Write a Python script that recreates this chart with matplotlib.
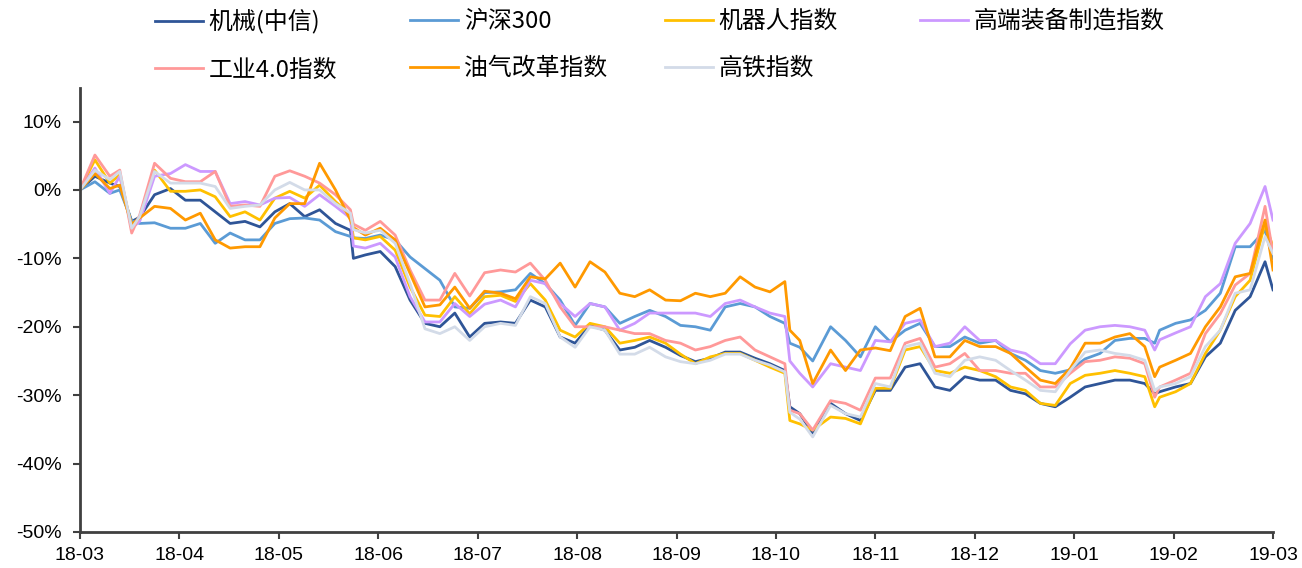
import matplotlib
matplotlib.use('Agg')
import matplotlib.pyplot as plt

# months since 2018-03 (category-style axis, one unit per month)
t = [0.00, 0.15, 0.30, 0.40, 0.52, 0.60, 0.75, 0.91, 1.06, 1.21, 1.36, 1.51, 1.66, 1.81, 1.96,
     2.11, 2.26, 2.41, 2.57, 2.72, 2.75, 2.87, 3.02, 3.17, 3.32, 3.47, 3.62, 3.77, 3.92, 4.07,
     4.23, 4.38, 4.53, 4.68, 4.83, 4.98, 5.13, 5.28, 5.43, 5.58, 5.73, 5.89, 6.04, 6.19, 6.34,
     6.49, 6.64, 6.79, 6.94, 7.09, 7.14, 7.24, 7.37, 7.55, 7.70, 7.85, 8.00, 8.15, 8.30, 8.45,
     8.60, 8.75, 8.90, 9.05, 9.21, 9.36, 9.51, 9.66, 9.81, 9.96, 10.11, 10.26, 10.41, 10.56,
     10.71, 10.81, 10.86, 11.02, 11.17, 11.32, 11.47, 11.62, 11.77, 11.92, 12.00]

month_labels = ['18-03', '18-04', '18-05', '18-06', '18-07', '18-08', '18-09',
                '18-10', '18-11', '18-12', '19-01', '19-02', '19-03']

# cumulative return, %
jixie = [0, 2.0, 1.0, 0.5, -4.6, -4.0, -0.7, 0.2, -1.5, -1.5, -3.2, -4.9, -4.6, -5.4, -3.2,
         -2.0, -3.9, -2.9, -4.9, -5.9, -10.0, -9.5, -9.0, -11.2, -16.1, -19.5, -20.0, -18.0, -21.5, -19.5,
         -19.3, -19.5, -16.1, -17.1, -21.5, -22.4, -19.8, -20.5, -23.4, -23.0, -22.0, -23.0, -24.2, -25.1, -24.6,
         -23.7, -23.7, -24.6, -25.4, -26.4, -31.7, -32.7, -35.6, -31.2, -32.7, -33.7, -29.3, -29.3, -25.9, -25.4,
         -28.8, -29.3, -27.3, -27.8, -27.8, -29.3, -29.8, -31.2, -31.7, -30.3, -28.8, -28.3, -27.8, -27.8,
         -28.3, -29.8, -29.5, -28.8, -28.3, -24.4, -22.4, -17.6, -15.6, -10.5, -14.6]

hs300 = [0, 1.2, -0.5, 0.0, -4.5, -4.9, -4.8, -5.6, -5.6, -4.9, -7.8, -6.3, -7.3, -7.3, -4.9,
         -4.2, -4.1, -4.4, -6.1, -6.8, -7.0, -7.1, -6.6, -7.3, -9.8, -11.5, -13.2, -17.1, -17.3, -15.0,
         -14.9, -14.6, -12.2, -13.7, -16.1, -19.8, -16.6, -17.1, -19.5, -18.5, -17.6, -18.5, -19.8, -20.0, -20.5,
         -17.1, -16.6, -17.1, -18.5, -19.5, -22.4, -23.0, -25.0, -20.0, -22.0, -24.4, -20.0, -22.2, -20.5, -19.5,
         -22.9, -22.9, -21.5, -22.4, -22.0, -23.9, -24.9, -26.4, -26.8, -26.3, -24.7, -23.9, -22.0, -21.7,
         -21.7, -22.4, -20.5, -19.5, -19.0, -17.6, -15.1, -8.3, -8.3, -5.9, -10.0]

robot = [0, 4.4, 1.0, 2.2, -5.4, -4.4, 2.9, -0.2, -0.2, 0.0, -1.0, -3.9, -3.2, -4.4, -1.2,
         -0.2, -1.2, 0.7, -1.7, -3.7, -7.0, -7.3, -6.8, -8.8, -14.2, -18.3, -18.5, -15.6, -18.1, -15.6,
         -15.4, -16.3, -13.7, -16.1, -20.5, -21.5, -19.5, -20.0, -22.4, -22.0, -21.5, -22.4, -24.0, -25.4, -24.4,
         -23.9, -23.9, -24.9, -25.9, -26.8, -33.7, -34.2, -35.1, -33.2, -33.4, -34.2, -29.0, -29.0, -23.4, -22.9,
         -26.4, -26.8, -25.9, -26.4, -27.3, -28.8, -29.3, -31.2, -31.5, -28.3, -27.1, -26.8, -26.4, -26.8,
         -27.3, -31.7, -30.3, -29.5, -28.3, -23.9, -20.5, -15.6, -13.2, -4.9, -8.3]

high_end = [0, 3.2, -0.5, 2.0, -5.6, -4.6, 2.0, 2.4, 3.7, 2.7, 2.7, -2.0, -1.7, -2.2, -1.2,
            -1.1, -2.4, -0.7, -2.4, -4.1, -8.2, -8.5, -7.8, -9.8, -15.6, -19.3, -19.3, -16.6, -18.5, -16.7,
            -16.1, -17.1, -13.2, -13.7, -16.6, -18.5, -16.6, -17.1, -20.5, -19.5, -18.0, -18.0, -18.0, -18.0, -18.5,
            -16.6, -16.1, -17.1, -18.0, -18.5, -25.0, -26.8, -28.8, -25.4, -25.9, -26.4, -22.0, -22.2, -19.5, -19.0,
            -22.9, -22.4, -20.0, -22.0, -22.0, -23.4, -23.9, -25.4, -25.4, -22.5, -20.5, -20.0, -19.8, -20.0,
            -20.5, -23.4, -21.9, -20.9, -20.0, -15.6, -13.7, -7.8, -4.9, 0.5, -4.4]

industry40 = [0, 5.1, 2.0, 2.9, -6.3, -3.7, 3.9, 1.7, 1.2, 1.2, 2.7, -2.4, -2.2, -2.4, 2.0,
              2.8, 2.0, 1.0, -0.7, -2.9, -5.0, -5.9, -4.6, -6.6, -11.7, -16.1, -16.1, -12.2, -15.5, -12.1,
              -11.7, -12.0, -10.7, -13.2, -17.1, -20.0, -20.0, -20.0, -20.5, -21.0, -21.0, -22.0, -22.4, -23.4, -22.9,
              -22.0, -21.5, -23.4, -24.4, -25.4, -32.2, -32.7, -35.1, -30.8, -31.2, -32.2, -27.5, -27.5, -22.4, -21.7,
              -25.9, -25.4, -23.9, -26.4, -26.4, -26.8, -26.8, -28.8, -28.8, -26.8, -25.1, -24.9, -24.4, -24.6,
              -25.4, -30.3, -28.8, -27.8, -26.8, -21.0, -18.1, -13.9, -12.2, -2.4, -9.3]

oil_gas = [0, 2.4, 0.2, 0.7, -5.0, -4.1, -2.4, -2.7, -4.4, -3.4, -7.3, -8.5, -8.3, -8.3, -4.1,
           -2.0, -2.0, 3.9, 0.0, -4.4, -5.5, -6.6, -5.6, -7.3, -12.2, -17.1, -16.8, -14.2, -17.3, -14.8,
           -15.1, -15.9, -12.7, -13.0, -10.7, -14.2, -10.5, -12.0, -15.1, -15.6, -14.6, -16.1, -16.2, -15.1, -15.6,
           -15.1, -12.7, -14.2, -14.9, -13.4, -20.5, -22.0, -28.3, -23.4, -26.4, -23.4, -23.1, -23.5, -18.5, -17.3,
           -24.4, -24.4, -22.0, -22.9, -22.9, -23.9, -25.9, -27.8, -28.3, -26.1, -22.4, -22.4, -21.5, -21.0,
           -22.9, -27.3, -25.9, -24.9, -23.9, -20.0, -17.1, -12.7, -12.2, -4.4, -11.7]

railway = [0, 2.9, 1.5, 2.7, -5.6, -3.9, 2.7, 1.0, 1.0, 1.0, 0.5, -2.7, -2.4, -2.2, 0.0,
           1.1, 0.0, 0.0, -2.0, -3.4, -5.8, -6.3, -5.9, -7.8, -13.7, -20.3, -21.0, -20.0, -22.0, -20.0,
           -19.5, -19.8, -15.6, -16.6, -21.5, -23.0, -20.0, -20.5, -24.0, -24.0, -23.0, -24.4, -25.1, -25.4, -24.9,
           -24.0, -24.0, -24.9, -25.6, -26.6, -32.5, -33.5, -36.1, -31.5, -32.7, -33.2, -28.3, -28.8, -22.9, -22.4,
           -26.8, -27.3, -24.9, -24.4, -24.9, -26.4, -27.8, -29.3, -29.5, -26.4, -23.7, -23.4, -23.9, -24.2,
           -24.9, -29.3, -28.8, -28.3, -27.3, -22.9, -20.5, -15.1, -14.6, -6.8, -9.3]

series = [
    ('机械(中信)', jixie, '#2F5597'),
    ('沪深300', hs300, '#5B9BD5'),
    ('机器人指数', robot, '#FFC000'),
    ('高端装备制造指数', high_end, '#CC99FF'),
    ('工业4.0指数', industry40, '#FF9999'),
    ('油气改革指数', oil_gas, '#FF9900'),
    ('高铁指数', railway, '#D3DBE8'),
]

fig = plt.figure(figsize=(13.02, 5.68), dpi=100)
ax = fig.add_axes([80 / 1302, 1 - 532 / 568, (1273 - 80) / 1302, (532 - 88) / 568])

lines = {}
for name, vals, color in series:
    lines[name], = ax.plot(t, vals, color=color, lw=2.0, label=name)

ax.set_xlim(0, 12)
ax.set_ylim(-50, 14.9)
ax.set_xticks(range(len(month_labels)))
ax.set_xticklabels(month_labels)
yt = [-50, -40, -30, -20, -10, 0, 10]
ax.set_yticks(yt)
ax.set_yticklabels([f'{v}%' for v in yt])

for lab in ax.get_xticklabels() + ax.get_yticklabels():
    lab.set_fontfamily(['Liberation Sans', 'DejaVu Sans'])
    lab.set_fontsize(14)
    lab.set_color('#000000')

ax.spines['top'].set_visible(False)
ax.spines['right'].set_visible(False)
for s in ['left', 'bottom']:
    ax.spines[s].set_color('#404040')
    ax.spines[s].set_linewidth(2.0)
ax.tick_params(axis='both', direction='out', length=5, width=1.5, color='#404040')
ax.tick_params(axis='y', pad=8)
ax.tick_params(axis='x', pad=6)

# legend: 4 evenly spaced columns, two rows (one legend per column)
legend_cols = [['机械(中信)', '工业4.0指数'], ['沪深300', '油气改革指数'],
               ['机器人指数', '高铁指数'], ['高端装备制造指数']]
col_x = [155, 410, 665, 920]
for names, x0 in zip(legend_cols, col_x):
    fig.legend([lines[n] for n in names], names, loc='upper left',
               bbox_to_anchor=(x0 / 1302, 1 - 10 / 568), frameon=False,
               borderpad=0, borderaxespad=0, handlelength=2.0, handletextpad=0.25,
               labelspacing=1.0,
               prop={'family': ['Noto Sans CJK SC', 'DejaVu Sans'], 'size': 17.2})

fig.savefig('out.png', dpi=100)
